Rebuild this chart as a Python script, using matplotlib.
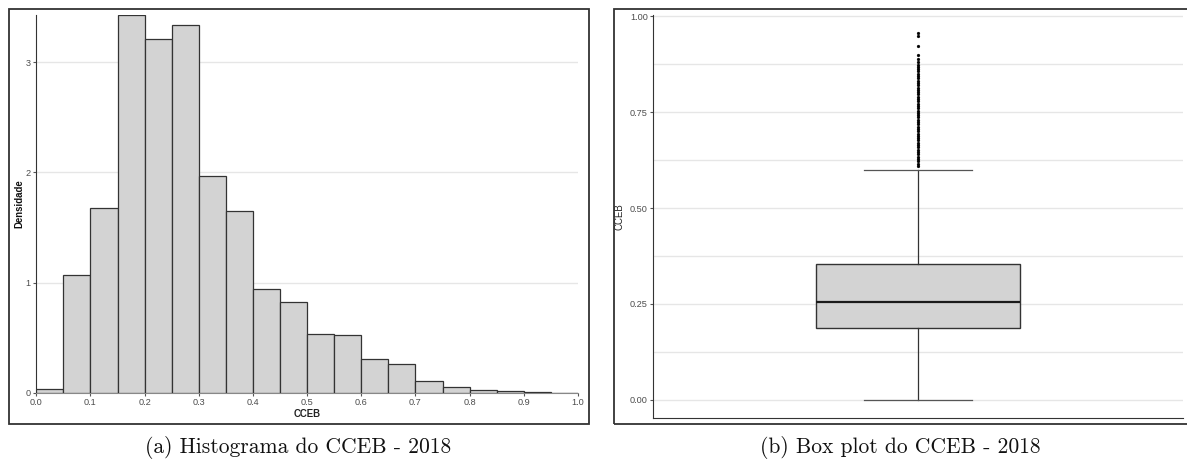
import matplotlib
matplotlib.use("Agg")
import matplotlib.pyplot as plt
from matplotlib.patches import Rectangle

# Dados do histograma (densidade por classe de largura 0.05)
bin_edges = [0.00, 0.05, 0.10, 0.15, 0.20, 0.25, 0.30, 0.35, 0.40, 0.45, 0.50,
             0.55, 0.60, 0.65, 0.70, 0.75, 0.80, 0.85, 0.90, 0.95, 1.00]
densidade = [0.03, 1.07, 1.68, 3.43, 3.21, 3.34, 1.97, 1.65, 0.94, 0.82,
             0.53, 0.52, 0.31, 0.26, 0.11, 0.055, 0.025, 0.013, 0.003, 0.0]
hist_xticks = [0.0, 0.1, 0.2, 0.3, 0.4, 0.5, 0.6, 0.7, 0.8, 0.9, 1.0]
hist_yticks = [0, 1, 2, 3]

# Dados do box plot
q1 = 0.188
mediana = 0.256
q3 = 0.355
whisk_lo = 0.0
whisk_hi = 0.599
outliers = [0.610, 0.616, 0.622, 0.628, 0.634, 0.640, 0.646, 0.652, 0.658,
            0.664, 0.670, 0.676, 0.682, 0.688, 0.694, 0.700, 0.706, 0.712,
            0.718, 0.724, 0.730, 0.736, 0.742, 0.748, 0.754, 0.760, 0.766,
            0.772, 0.778, 0.784, 0.790, 0.796, 0.802, 0.808, 0.814, 0.820,
            0.826, 0.832, 0.838, 0.844, 0.850, 0.856, 0.862, 0.868, 0.874,
            0.880, 0.888, 0.900, 0.922, 0.949, 0.955]
box_yticks = [0.00, 0.25, 0.50, 0.75, 1.00]
box_yminor = [0.125, 0.375, 0.625, 0.875]

W, H = 1187, 473
fig = plt.figure(figsize=(W / 100, H / 100), dpi=100)

tick_font = dict(family="Liberation Sans", size=6.6, color="#4D4D4D")
grid_col = "#E6E6E6"
axis_col = "#333333"


def fig_rect(x0, y0, x1, y1):
    # coordenadas em pixels (origem no topo) -> fração da figura
    return [x0 / W, 1 - y1 / H, (x1 - x0) / W, (y1 - y0) / H]


# ---------------- Histograma ----------------
ax1 = fig.add_axes(fig_rect(36.3, 15, 578, 392.7))
widths = [bin_edges[i + 1] - bin_edges[i] for i in range(len(densidade))]
ax1.bar(bin_edges[:-1], densidade, width=widths, align="edge",
        color="#D3D3D3", edgecolor="#333333", linewidth=0.9, zorder=3)
ax1.set_xlim(0, 1)
ax1.set_ylim(0, 3.43)
ax1.set_xticks(hist_xticks)
ax1.set_xticklabels([f"{v:.1f}" for v in hist_xticks], **tick_font)
ax1.set_yticks(hist_yticks)
ax1.set_yticklabels([str(v) for v in hist_yticks], **tick_font)
ax1.yaxis.grid(True, color=grid_col, linewidth=1.0, zorder=0)
ax1.set_axisbelow(True)
for s in ["top", "right"]:
    ax1.spines[s].set_visible(False)
ax1.spines["left"].set_color(axis_col)
ax1.spines["bottom"].set_color("#888888")
ax1.tick_params(axis="both", length=2.5, width=0.8, color="#555555", pad=1.5)
ax1.set_xlabel("CCEB", family="Liberation Sans", size=6.9, weight="bold",
               color="#222222", labelpad=1)
ax1.set_ylabel("Densidade", family="Liberation Sans", size=6.9, weight="bold",
               color="#111111", labelpad=1)

# ---------------- Box plot ----------------
ax2 = fig.add_axes(fig_rect(653.3, 15, 1183, 418.3))
stats = [{"med": mediana, "q1": q1, "q3": q3,
          "whislo": whisk_lo, "whishi": whisk_hi, "fliers": outliers}]
ax2.bxp(stats, positions=[0.5], widths=0.385, capwidths=0.205,
        patch_artist=True, manage_ticks=False,
        boxprops=dict(facecolor="#D3D3D3", edgecolor="#333333", linewidth=1.0),
        medianprops=dict(color="#1A1A1A", linewidth=1.6),
        whiskerprops=dict(color="#333333", linewidth=0.9),
        capprops=dict(color="#555555", linewidth=0.9),
        flierprops=dict(marker="o", markersize=2.1, markerfacecolor="black",
                        markeredgecolor="black", markeredgewidth=0.2,
                        linestyle="none"))
ax2.set_xlim(0, 1)
ax2.set_ylim(-0.048, 1.003)
ax2.set_xticks([])
ax2.set_yticks(box_yticks)
ax2.set_yticklabels([f"{v:.2f}" for v in box_yticks], **tick_font)
ax2.set_yticks(box_yminor, minor=True)
ax2.yaxis.grid(True, which="both", color=grid_col, linewidth=1.0)
ax2.set_axisbelow(True)
for s in ["top", "right"]:
    ax2.spines[s].set_visible(False)
ax2.spines["left"].set_color(axis_col)
ax2.spines["bottom"].set_color(axis_col)
ax2.tick_params(axis="y", which="major", length=2.5, width=0.8, color="#555555", pad=1.5)
ax2.tick_params(axis="y", which="minor", length=0)
ax2.set_ylabel("CCEB", family="Liberation Sans", size=6.9, color="#222222",
               labelpad=4)

# Molduras de cada painel
for x0, y0, x1, y1 in [(9, 9, 589, 423.5), (613.7, 9, 1192, 423.7)]:
    fig.patches.append(Rectangle((x0 / W, 1 - y1 / H), (x1 - x0) / W, (y1 - y0) / H,
                                 transform=fig.transFigure, fill=False,
                                 edgecolor="#333333", linewidth=1.3))

# Legendas das subfiguras
fig.text(298 / W, 1 - 447 / H, "(a) Histograma do CCEB - 2018", family="cmr10",
         size=15.5, ha="center", va="center", color="#111111")
fig.text(900 / W, 1 - 447 / H, "(b) Box plot do CCEB - 2018", family="cmr10",
         size=15.5, ha="center", va="center", color="#111111")

fig.savefig("out.png", dpi=100)
